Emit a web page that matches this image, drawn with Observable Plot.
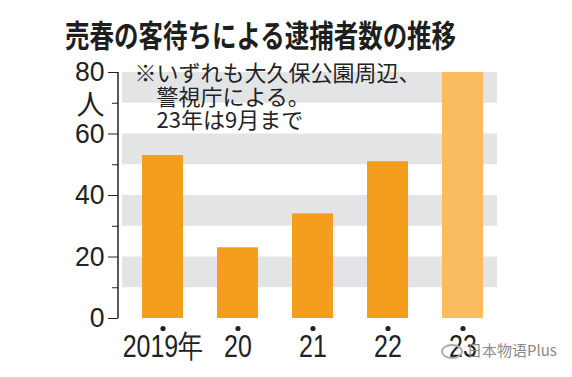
<!DOCTYPE html>
<html><head><meta charset="utf-8">
<script src="https://cdn.jsdelivr.net/npm/d3@7"></script>
<script src="https://cdn.jsdelivr.net/npm/@observablehq/plot@0.6"></script>
<style>
body{margin:0;background:#fff;width:572px;height:377px;overflow:hidden;position:relative;color:#222;}
#title{height:56px;box-sizing:border-box;padding-top:18px;padding-left:65px;white-space:nowrap;}
#title span{display:inline-block;font-family:"Noto Sans CJK JP",sans-serif;font-weight:bold;font-size:31px;line-height:31px;transform:scaleX(0.79);transform-origin:left center;color:#1e1e1e;}
#wm{position:absolute;left:441px;top:341px;font-family:"Noto Sans CJK SC",sans-serif;font-size:15px;line-height:18px;color:#8a8a8a;white-space:nowrap;}
#wm i{display:inline-block;width:22px;height:15px;border:2px solid #aaa;border-radius:50%;vertical-align:middle;margin-right:4px;box-sizing:border-box;}
</style></head>
<body>
<div id="title"><span></span></div>
<div id="chart"></div>
<div id="wm"><i></i><span></span></div>
<script>
const title = "売春の客待ちによる逮捕者数の推移";
const years = ["2019","2020","2021","2022","2023"];
const xLabels = ["2019年","20","21","22","23"];
const counts = [53, 23, 34, 51, 80];
const partialYear = [false, false, false, false, true];
const yTicks = [0, 20, 40, 60, 80];
const yMinor = [10, 30, 50, 70];
const bandLo = [10, 30, 50, 70];
const bandHi = [20, 40, 60, 80];
const unitLabel = "人";
const noteLines = ["※いずれも大久保公園周辺、", "　警視庁による。", "　23年は9月まで"];
const watermark = "日本物语Plus";

document.querySelector("#title span").textContent = title;
document.querySelector("#wm span").textContent = watermark;

const data = years.map((y, i) => ({year: y, count: counts[i], partial: partialYear[i]}));
const bands = bandLo.map((lo, i) => ({lo, hi: bandHi[i]}));

const chart = Plot.plot({
  width: 572, height: 321,
  marginTop: 16, marginBottom: 59, marginLeft: 118, marginRight: 75,
  style: {color: "#222", background: "#fff"},
  x: {domain: years, insetLeft: 4, paddingInner: 0.46, paddingOuter: 0.2046, align: 0.58, axis: null},
  y: {domain: [0, 80], axis: null},
  marks: [
    Plot.rect(bands, {y1: "lo", y2: "hi", fill: "#e3e4e6", insetLeft: 4}),
    Plot.barY(data.filter(d => !d.partial), {x: "year", y: "count", fill: "#f59e1e"}),
    Plot.barY(data.filter(d => d.partial), {x: "year", y: "count", fill: "#fbbb5f"}),
    Plot.axisY({ticks: yMinor, tickSize: 6, tickFormat: () => "", label: null, stroke: "#222"}),
    Plot.axisY({ticks: yTicks, tickSize: 10, tickPadding: 4, fontSize: 28, fontFamily: "Liberation Sans, Arial, sans-serif", label: null, stroke: "#222", fill: "#222"}),
    Plot.axisX({tickSize: 0, tickPadding: 16, tickFormat: d => xLabels[years.indexOf(d)], fontSize: 32, fontFamily: "Liberation Sans, Arial, sans-serif", label: null, fill: "#222"}),
    Plot.dot(years, {x: d => d, frameAnchor: "bottom", dy: 10, r: 2.6, fill: "#222", stroke: null}),
    Plot.text([unitLabel], {frameAnchor: "top-left", text: d => d, dx: -14, dy: 23, textAnchor: "end", fontSize: 28, fontFamily: "Noto Sans CJK JP, sans-serif", fill: "#222"}),
    Plot.text([noteLines.join("\n")], {frameAnchor: "top-left", text: d => d, dx: 16, dy: -8, textAnchor: "start", lineAnchor: "top", lineHeight: 1.07, fontSize: 22, fontFamily: "Noto Sans CJK JP, sans-serif", fill: "#222"})
  ]
});
document.getElementById("chart").appendChild(chart);

// condense tick labels horizontally (newspaper-style narrow type)
function condense(sel, k) {
  sel.each(function() {
    const t = this.getAttribute("transform");
    if (t) {
      this.setAttribute("transform", t + ` scale(${k},1)`);
    } else {
      const x = +(this.getAttribute("x") || 0);
      this.setAttribute("x", x / k);
      this.setAttribute("transform", `scale(${k},1)`);
    }
  });
}
const svg = d3.select(chart);
condense(svg.selectAll('g[aria-label="x-axis tick label"] text'), 0.78);
condense(svg.selectAll('g[aria-label="y-axis tick label"] text'), 0.95);

// vertical axis line drawn through the plot's own y scale
const ys = chart.scale("y");
svg.append("line")
  .attr("x1", 118).attr("x2", 118)
  .attr("y1", ys.apply(0)).attr("y2", ys.apply(80))
  .attr("stroke", "#222").attr("stroke-width", 1.5);
</script>
</body></html>
